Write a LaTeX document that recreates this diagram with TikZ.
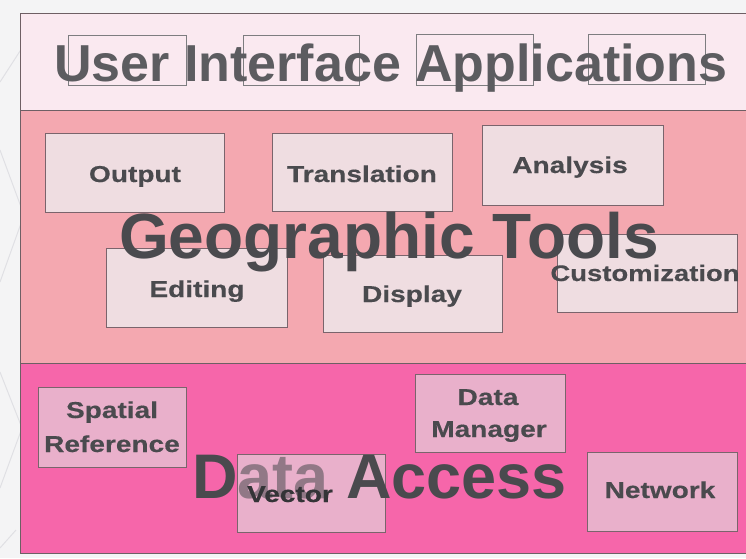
\documentclass[tikz,border=0pt]{standalone}
\usepackage{fontspec}
\setmainfont{Liberation Sans}
\newfontfamily\bigfont{Liberation Sans Bold}
\newfontfamily\lblfont[FakeStretch=1.22,FakeBold=0.4]{Liberation Sans Bold}

\definecolor{pagebg}{RGB}{244,244,245}
\definecolor{chevron}{RGB}{224,224,228}
\definecolor{topband}{RGB}{250,233,240}
\definecolor{midband}{RGB}{244,168,176}
\definecolor{lowband}{RGB}{246,102,170}
\definecolor{midbox}{RGB}{239,221,225}
\definecolor{lowbox}{RGB}{233,176,203}
\definecolor{boxline}{RGB}{122,100,108}
\definecolor{topline}{RGB}{125,125,128}
\definecolor{bandline}{RGB}{110,95,100}
\definecolor{ink}{RGB}{74,74,78}

\tikzset{
  uibox/.style={draw=topline, line width=1.1pt, inner sep=0pt},
  toolbox/.style={draw=boxline, line width=1.4pt, fill=midbox, inner sep=0pt},
  databox/.style={draw=boxline, line width=1.4pt, fill=lowbox, inner sep=0pt},
  layertitle/.style={font=\bigfont, text=ink, inner sep=0pt, anchor=base west},
  boxlabel/.style={font=\lblfont\fontsize{23}{30}\selectfont, text=ink,
                   inner sep=0pt, anchor=base, align=center}
}

% rectangle node from its top-left and bottom-right corners
\newcommand{\rectnode}[6]{%
  \node[#1, anchor=north west, minimum width={(#5-#3)*1pt},
        minimum height={(#6-#4)*1pt}] (#2) at (#3,#4) {};}

\begin{document}
\begin{tikzpicture}[x=1pt,y=-1pt]
\useasboundingbox (0,0) rectangle (746,558);
\fill[pagebg] (0,0) rectangle (746,558);

% faint chevrons in the left margin
\draw[chevron, line width=1pt] (0,82) -- (22,48);
\draw[chevron, line width=1pt] (0,150) -- (24,215) -- (0,282);
\draw[chevron, line width=1pt] (0,372) -- (22,428) -- (0,488);
\draw[chevron, line width=1pt] (0,548) -- (16,530);

% the three layers
\fill[topband] (20,13) rectangle (746,110);
\fill[midband] (20,110) rectangle (746,363);
\fill[lowband] (20,363) rectangle (746,553);
\draw[bandline, line width=0.9pt] (20,553) -- (20,13) -- (746,13);
\draw[bandline, line width=0.9pt] (20,110) -- (746,110);
\draw[bandline, line width=0.9pt] (20,363) -- (746,363);
\draw[bandline, line width=0.9pt] (20,553) -- (746,553);

% user interface application slots
\rectnode{uibox}{ui1}{68}{35}{186}{85}
\rectnode{uibox}{ui2}{243}{35}{359}{85}
\rectnode{uibox}{ui3}{416}{34}{533}{85}
\rectnode{uibox}{ui4}{588}{34}{705}{84}

% geographic tools
\rectnode{toolbox}{output}{45}{133}{224}{212}
\rectnode{toolbox}{translation}{272}{133}{452}{211}
\rectnode{toolbox}{analysis}{482}{125}{663}{205}
\rectnode{toolbox}{editing}{106}{248}{287}{327}
\rectnode{toolbox}{display}{323}{255}{502}{332}
\rectnode{toolbox}{custom}{557}{234}{737}{312}

% data access
\rectnode{databox}{spatial}{38}{387}{186}{467}
\rectnode{databox}{manager}{415}{374}{565}{452}
\rectnode{databox}{vector}{237}{454}{385}{532}
\rectnode{databox}{network}{587}{452}{737}{531}

% layer titles
\node[layertitle, font=\bigfont\fontsize{52}{60}\selectfont, text=ink!90] (uititle) at (54,81) {User Interface Applications};
\node[layertitle, font=\bigfont\fontsize{64}{72}\selectfont] (geotitle) at (119,258) {Geographic Tools};
\node[layertitle, font=\bigfont\fontsize{63}{72}\selectfont] (datatitle) at (192,498) {Data Access};

% the left part of the vector box veils the title letters beneath it
\fill[lowbox, opacity=0.45] ([xshift=1pt,yshift=-1pt]vector.north west) rectangle ([yshift=1pt]vector.south -| 342,0);

% component labels
\node[boxlabel] (outputlbl) at (135,182) {Output};
\node[boxlabel] (translationlbl) at (362,182) {Translation};
\node[boxlabel] (analysislbl) at (570,173) {Analysis};
\node[boxlabel] (editinglbl) at (197,297) {Editing};
\node[boxlabel] (displaylbl) at (412,302) {Display};
\node[boxlabel, font=\lblfont\fontsize{22.5}{30}\selectfont] (customlbl) at (645,281) {Customization};
\node[boxlabel] (spatiallbl1) at (112,418) {Spatial};
\node[boxlabel] (spatiallbl2) at (112,452) {Reference};
\node[boxlabel] (managerlbl1) at (488,405) {Data};
\node[boxlabel] (managerlbl2) at (489,437) {Manager};
\node[boxlabel, text=ink!70!black] (vectorlbl) at (290,502) {Vector};
\node[boxlabel] (networklbl) at (660,498) {Network};
\end{tikzpicture}
\end{document}
